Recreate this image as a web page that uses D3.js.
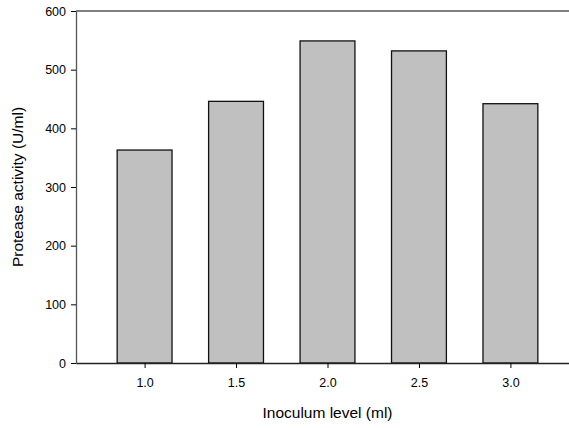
<!DOCTYPE html>
<html>
<head>
<meta charset="utf-8">
<script src="https://cdn.jsdelivr.net/npm/d3@7"></script>
<style>
  body { margin: 0; background: #fff; }
  svg { display: block; font-family: "Liberation Sans", Arial, sans-serif; }
  .tick text { font-size: 12.5px; fill: #000; }
  .axisTitle { font-size: 15.5px; fill: #000; }
</style>
</head>
<body>
<div id="chart"></div>
<script>
// inoculum levels (ml) and protease activity (U/ml)
var levels = [1.0, 1.5, 2.0, 2.5, 3.0];
var activity = [363, 446, 549, 532, 442];
var yTicks = [0, 100, 200, 300, 400, 500, 600];

var width = 569, height = 428;
var margin = {top: 11, left: 76, bottom: 65};

var svg = d3.select("#chart").append("svg")
    .attr("width", width)
    .attr("height", height);

var x = d3.scaleLinear()
    .domain([0.625, 3.375])
    .range([margin.left, margin.left + 503]);

var y = d3.scaleLinear()
    .domain([0, 600])
    .range([height - margin.bottom, margin.top]);

var barW = x(1.3) - x(1.0);

// top frame line
svg.append("line")
    .attr("x1", x(0.625)).attr("x2", x(3.375))
    .attr("y1", y(600)).attr("y2", y(600))
    .attr("stroke", "#555").attr("stroke-width", 1.5);

// bars
svg.selectAll("rect.bar")
    .data(levels)
    .enter()
    .append("rect")
    .attr("class", "bar")
    .attr("x", function(d){ return x(d) - barW / 2; })
    .attr("y", function(d, i){ return y(activity[i]); })
    .attr("width", barW)
    .attr("height", function(d, i){ return y(0) - y(activity[i]); })
    .attr("fill", "#c0c0c0")
    .attr("stroke", "#111")
    .attr("stroke-width", 1.3);

// axes
var yAxis = svg.append("g")
    .attr("transform", "translate(" + margin.left + ",0)")
    .call(d3.axisLeft(y).tickValues(yTicks).tickFormat(d3.format("d")).tickSize(5).tickSizeOuter(0).tickPadding(5));
yAxis.select(".domain").attr("stroke", "#555").attr("stroke-width", 1.3);

var xAxis = svg.append("g")
    .attr("transform", "translate(0," + y(0) + ")")
    .call(d3.axisBottom(x).tickValues(levels).tickFormat(d3.format(".1f")).tickSize(5).tickSizeOuter(0).tickPadding(10));
xAxis.select(".domain").attr("stroke", "#222").attr("stroke-width", 1.3);

// titles
svg.append("text")
    .attr("class", "axisTitle")
    .attr("transform", "translate(23," + y(300) + ") rotate(-90)")
    .attr("text-anchor", "middle")
    .text("Protease activity (U/ml)");

svg.append("text")
    .attr("class", "axisTitle")
    .attr("x", x(2.0))
    .attr("y", 418)
    .attr("text-anchor", "middle")
    .text("Inoculum level (ml)");
</script>
</body>
</html>
